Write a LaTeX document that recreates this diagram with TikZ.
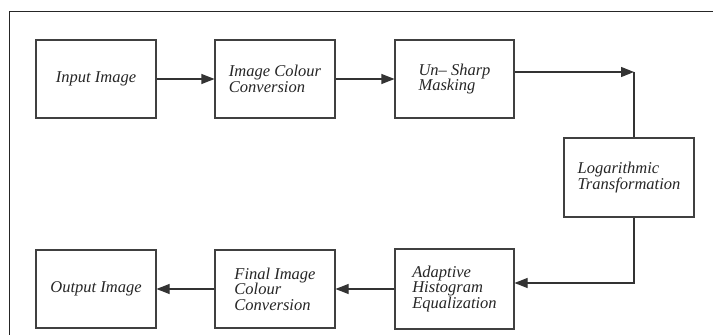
\documentclass[tikz,border=0pt]{standalone}
\usepackage{fontspec}
\setmainfont{Liberation Serif}
\usetikzlibrary{arrows.meta}
\begin{document}
\begin{tikzpicture}[x=1pt,y=1pt,
  blockbox/.style={draw=black!75, line width=1.1pt, align=left, inner sep=0pt,
    font=\fontsize{16.5}{15.5}\selectfont\itshape, text=black!85},
  flow/.style={draw=black!80, line width=1.1pt, -{Triangle[length=13pt,width=10pt]}},
  wire/.style={draw=black!80, line width=1.1pt}]
\useasboundingbox (0,0) rectangle (713,335);
\fill[white] (0,0) rectangle (713,335);
% outer frame (left and top edges)
\draw[black!85, line width=0.9pt] (9,0) -- (9,324) -- (713,324);

% processing blocks
\node[blockbox, minimum width=120pt, minimum height=78pt] (in)   at (96,256)    {Input Image};
\node[blockbox, minimum width=120pt, minimum height=78pt] (icc)  at (275,256)   {Image Colour\\Conversion};
\node[blockbox, minimum width=119pt, minimum height=78pt] (usm)  at (454.5,256) {Un– Sharp\\Masking};
\node[blockbox, minimum width=130pt, minimum height=79pt] (log)  at (629,157.5) {Logarithmic\\Transformation};
\node[blockbox, minimum width=119pt, minimum height=80pt] (ahe)  at (454.5,46)  {Adaptive\\Histogram\\Equalization};
\node[blockbox, minimum width=120pt, minimum height=78pt] (ficc) at (275,46)    {Final Image\\Colour\\Conversion};
\node[blockbox, minimum width=120pt, minimum height=78pt] (out)  at (96,46)     {Output Image};

% bends of the return path
\coordinate (c1) at (634,263);
\coordinate (c2) at (634,52);

% connectors
\draw[flow] (in.east) -- (icc.west);
\draw[flow] (icc.east) -- (usm.west);
\draw[flow] (usm.east |- c1) -- (c1);
\draw[wire] (c1) -- (c1 |- log.north);
\draw[flow] (c1 |- log.south) -- (c2) -- (ahe.east |- c2);
\draw[flow] (ahe.west) -- (ficc.east);
\draw[flow] (ficc.west) -- (out.east);
\end{tikzpicture}
\end{document}
